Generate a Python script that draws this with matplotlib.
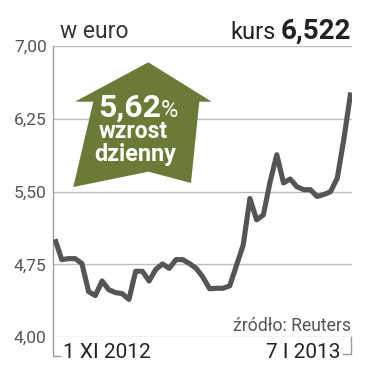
import matplotlib.pyplot as plt
from matplotlib import font_manager
from matplotlib.patches import Polygon

# daily closing price, 1 XI 2012 .. 7 I 2013 (EUR)
kurs = [5.01, 4.80, 4.81, 4.81, 4.76, 4.47, 4.43, 4.58, 4.49, 4.46,
        4.45, 4.39, 4.68, 4.68, 4.58, 4.70, 4.755, 4.71, 4.80, 4.80,
        4.76, 4.71, 4.62, 4.50, 4.505, 4.505, 4.53, 4.74, 4.95, 5.43,
        5.21, 5.26, 5.60, 5.88, 5.59, 5.63, 5.55, 5.52, 5.52, 5.45,
        5.47, 5.50, 5.64, 6.05, 6.522]
yticks = [4.00, 4.75, 5.50, 6.25, 7.00]
ytick_labels = ["4,00", "4,75", "5,50", "6,25", "7,00"]
date_labels = ["1 XI 2012", "7 I 2013"]
last_price = "6,522"
change = "5,62"

names = {f.name for f in font_manager.fontManager.ttflist}
font = "Roboto" if "Roboto" in names else "DejaVu Sans"
plt.rcParams["font.family"] = font

W, H = 389, 382
fig = plt.figure(figsize=(W / 100, H / 100), dpi=100)
ax = fig.add_axes([53 / W, (H - 337.3) / H, 299 / W, 291.3 / H])

x = range(len(kurs))
ax.plot(x, kurs, color="#555555", lw=3.7, solid_capstyle="butt", zorder=3)
ax.set_xlim(-0.3, 44.19)
ax.set_ylim(4.0, 7.0)

for v in yticks:
    ax.axhline(v, color="#bdbdbd", lw=1, zorder=1)
ax.set_yticks(yticks, ytick_labels)
ax.set_xticks([])
ax.tick_params(axis="y", length=0, pad=4.5, labelsize=12.5, labelcolor="#555555")
for s in ax.spines.values():
    s.set_visible(False)

# axis brackets
gray = "#9a9a9a"
ax.plot([0, 0, 0.023], [1, -0.064, -0.064], color=gray, lw=1,
        transform=ax.transAxes, clip_on=False)
ax.plot([0.97, 0.9967, 0.9967], [-0.058, -0.058, 0], color=gray, lw=1,
        transform=ax.transAxes, clip_on=False)

ax.text(0.033, -0.071, date_labels[0], transform=ax.transAxes, fontsize=15,
        color="#222222", ha="left", va="baseline")
ax.text(0.96, -0.071, date_labels[1], transform=ax.transAxes, fontsize=15,
        color="#222222", ha="right", va="baseline")
ax.text(0.997, 0.0216, "źródło: Reuters", transform=ax.transAxes, fontsize=12.7,
        color="#555555", ha="right", va="baseline")

# header
def px(xp, yp):
    return xp / W, 1 - yp / H

fig.text(*px(60, 38), "w euro", fontsize=16.5, color="#333333", va="baseline")
fig.text(*px(351, 39), last_price, fontsize=20, weight="bold", color="#222222",
         ha="right", va="baseline")
fig.text(*px(276, 39), "kurs", fontsize=17, color="#222222", ha="right", va="baseline")

# green arrow
arrow = [(148.3, 62.3), (211.7, 101.7), (199.3, 101.7), (191, 183),
         (148.3, 171.7), (73.3, 187), (93.3, 101.7), (75, 101.7)]
fig.patches.append(Polygon([px(a, b) for a, b in arrow], closed=True,
                           facecolor="#6b7a37", edgecolor="none",
                           transform=fig.transFigure, zorder=2))
fig.text(*px(98, 116.7), change, fontsize=23, weight="bold", color="white",
         va="baseline", zorder=4)
fig.text(*px(161, 116.7), "%", fontsize=17, color="white", va="baseline", zorder=4)
fig.text(*px(133.5, 138.5), "wzrost", fontsize=16.5, weight="bold", color="white",
         ha="center", va="baseline", zorder=4)
fig.text(*px(135.5, 160.5), "dzienny", fontsize=16.8, weight="bold", color="white",
         ha="center", va="baseline", zorder=4)

fig.savefig("out.png", dpi=100)
